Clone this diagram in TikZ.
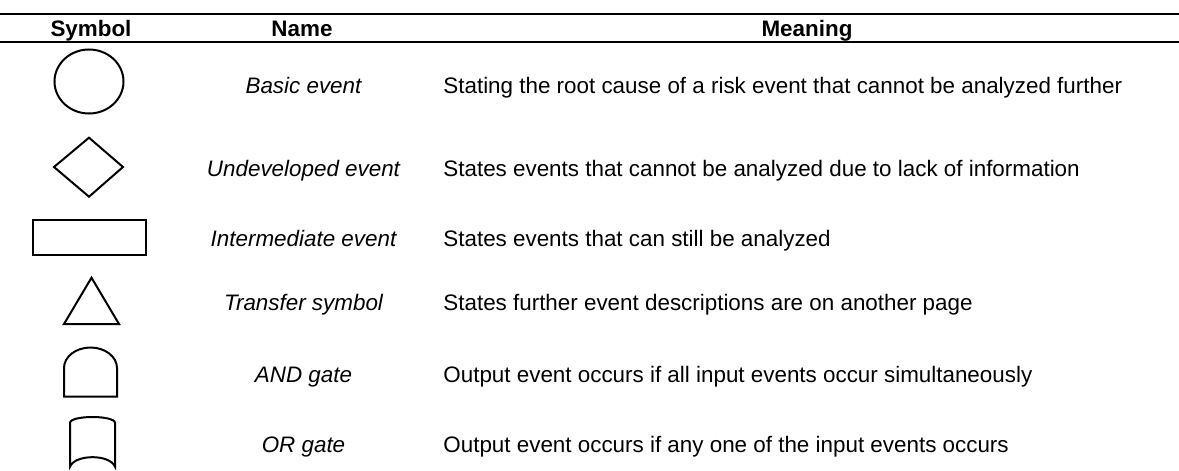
\documentclass[tikz,border=0pt]{standalone}
\usepackage{fontspec}
\setmainfont{Liberation Sans}
\usepackage{tikz}
\usetikzlibrary{calc}
\tikzset{headtxt/.style={anchor=base,inner sep=0pt,font=\fontsize{11.2}{13.4}\selectfont\bfseries},
         nametxt/.style={anchor=base,inner sep=0pt,font=\fontsize{11.2}{13.4}\selectfont\itshape},
         meantxt/.style={anchor=base west,inner sep=0pt,font=\fontsize{11.2}{13.4}\selectfont},
         rule/.style={draw,line width=0.85pt},
         symb/.style={draw,line width=1pt,line join=miter}}

\begin{document}
\begin{tikzpicture}[x=0.5pt,y=-0.5pt]
    \useasboundingbox (0,0) rectangle (1179,471);
    % Rules
    \draw[rule] (0,14) -- (1179,14);
    \draw[rule] (0,41.7) -- (1179,41.7);
    % Header
    \node (hsymbol) at (91,36) [headtxt]{Symbol};
    \node (hname) at (302,36) [headtxt]{Name};
    \node (hmeaning) at (807,36) [headtxt]{Meaning};
    % Symbols
    \draw[symb] (89,81.5) ellipse [x radius=34.5,y radius=32];
    \draw[symb] (54,167) -- (89,137.7) -- (123,167) -- (89,196.7) -- cycle;
    \draw[symb] (33,220) rectangle (146,255);
    \draw[symb] (64,324) -- (91.5,277.7) -- (119,324) -- cycle;
    \draw[symb] (64,396.7) -- (64,368) arc[start angle=180,end angle=360,x radius=26.5,y radius=20.5] -- (117,396.7) -- cycle;
    \draw[symb] (70,466.7) -- (70,423) .. controls (70,415) and (115,415) .. (115,423) -- (115,466.7) .. controls (110,454) and (75,454) .. cycle;
    % Names
    \node (nbasic) at (303.5,93) [nametxt]{Basic event};
    \node (nundev) at (303.5,176) [nametxt]{Undeveloped event};
    \node (ninter) at (303.5,246.7) [nametxt]{Intermediate event};
    \node (ntrans) at (303.5,310.7) [nametxt]{Transfer symbol};
    \node (nand) at (303.5,382.3) [nametxt]{AND gate};
    \node (nor) at (303.5,452.3) [nametxt]{OR gate};
    % Meanings
    \node (mbasic) at (443,93) [meantxt]{Stating the root cause of a risk event that cannot be analyzed further};
    \node (mundev) at (443,176) [meantxt]{States events that cannot be analyzed due to lack of information};
    \node (minter) at (443,246.7) [meantxt]{States events that can still be analyzed};
    \node (mtrans) at (443,310.7) [meantxt]{States further event descriptions are on another page};
    \node (mand) at (443,382.3) [meantxt]{Output event occurs if all input events occur simultaneously};
    \node (mor) at (443,452.3) [meantxt]{Output event occurs if any one of the input events occurs};
  \end{tikzpicture}
\end{document}
